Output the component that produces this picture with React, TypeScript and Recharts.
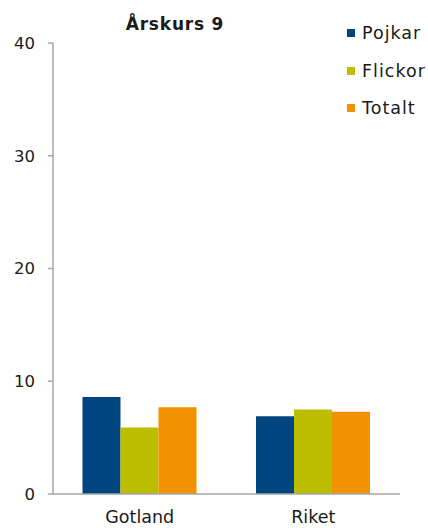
import { BarChart, Bar, XAxis, YAxis } from "recharts";

const categories = ["Gotland", "Riket"];
const pojkar = [8.6, 6.9];
const flickor = [5.9, 7.5];
const totalt = [7.7, 7.3];
const yTicks = [0, 10, 20, 30, 40];

const SERIES = [
  { key: "pojkar", name: "Pojkar", color: "#00457f" },
  { key: "flickor", name: "Flickor", color: "#bdbd00" },
  { key: "totalt", name: "Totalt", color: "#f39200" },
];

const data = categories.map((name, i) => ({
  name,
  pojkar: pojkar[i],
  flickor: flickor[i],
  totalt: totalt[i],
}));

const FONT = "'DejaVu Sans', sans-serif";
const AXIS_GRAY = "#a6a6a6";

export default function App() {
  return (
    <div
      style={{
        position: "absolute",
        left: 0,
        top: 0,
        width: 428,
        height: 528,
        background: "#fff",
        fontFamily: FONT,
      }}
    >
      <div
        style={{
          position: "absolute",
          left: 115,
          top: 14,
          width: 120,
          textAlign: "center",
          fontWeight: "bold",
          fontSize: 17,
          letterSpacing: 0.8,
          color: "#1a1a1a",
          whiteSpace: "nowrap",
        }}
      >
        Årskurs 9
      </div>

      <div style={{ position: "absolute", left: 347, top: 21 }}>
        {SERIES.map((s) => (
          <div
            key={s.key}
            style={{
              display: "flex",
              alignItems: "center",
              height: 24,
              marginBottom: 13.5,
              fontSize: 17.5,
              letterSpacing: 1,
              color: "#1a1a1a",
            }}
          >
            <span
              style={{
                display: "inline-block",
                width: 8,
                height: 8,
                background: s.color,
                marginRight: 7,
              }}
            />
            {s.name}
          </div>
        ))}
      </div>

      <BarChart
        width={428}
        height={528}
        data={data}
        margin={{ top: 43, right: 28, bottom: 0, left: 0 }}
        barCategoryGap="17%"
        barGap={0}
      >
        <XAxis
          dataKey="name"
          height={34}
          tickLine={false}
          tickSize={0}
          tickMargin={17}
          axisLine={{ stroke: AXIS_GRAY, strokeWidth: 1.5 }}
          tick={{ fill: "#1a1a1a", fontSize: 17.5, fontFamily: FONT }}
        />
        <YAxis
          width={53}
          domain={[0, 40]}
          ticks={yTicks}
          interval={0}
          tickSize={5}
          tickMargin={13}
          tickLine={{ stroke: AXIS_GRAY, strokeWidth: 1.5 }}
          axisLine={{ stroke: AXIS_GRAY, strokeWidth: 1.5 }}
          tick={{ fill: "#1a1a1a", fontSize: 16.5, fontFamily: FONT }}
        />
        {SERIES.map((s) => (
          <Bar
            key={s.key}
            dataKey={s.key}
            name={s.name}
            fill={s.color}
            isAnimationActive={false}
          />
        ))}
      </BarChart>
    </div>
  );
}
